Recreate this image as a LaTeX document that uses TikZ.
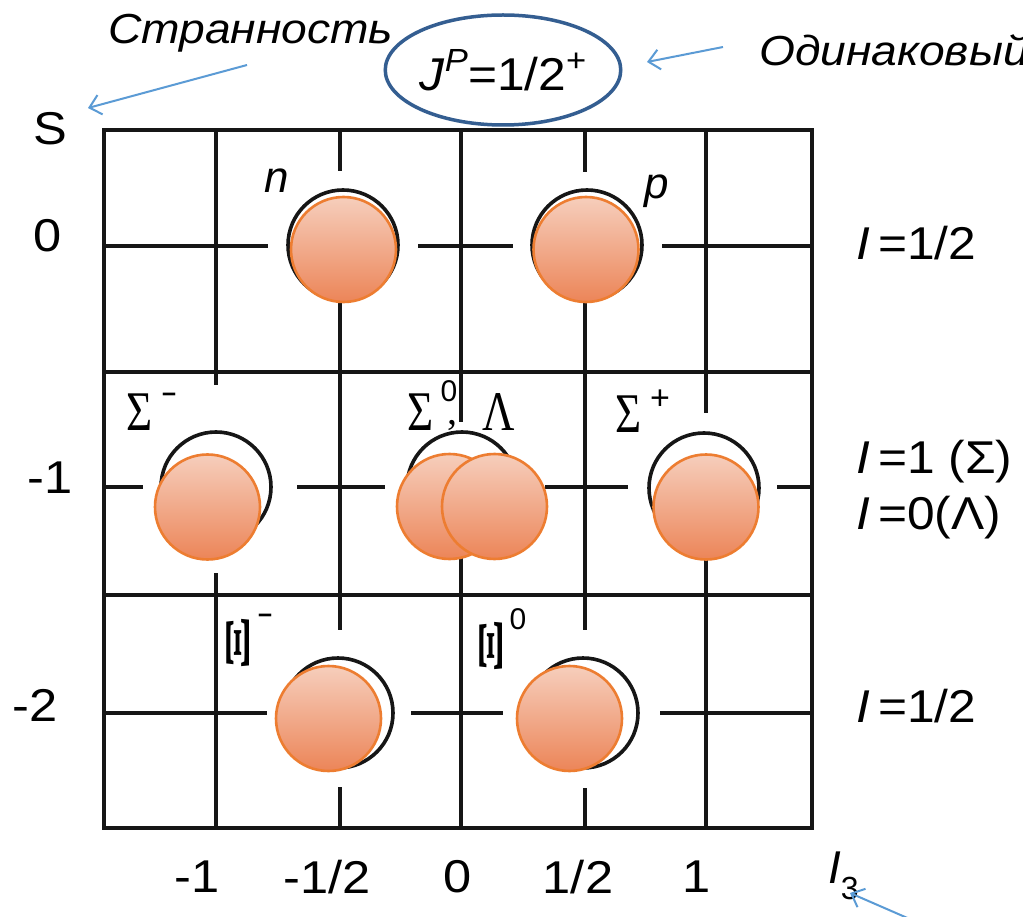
\documentclass[tikz,border=0pt]{standalone}
\usepackage{fontspec}
\usepackage{graphicx}
\setmainfont{Liberation Sans}
\newfontfamily\grk{Liberation Serif}
\usetikzlibrary{arrows.meta,shapes.geometric}
\newcommand\fsz[1]{\fontsize{#1}{#1}\selectfont}
\newcommand\hstretch[2]{\scalebox{#1}[1]{#2}}
\definecolor{ink}{RGB}{22,22,22}
\definecolor{oline}{RGB}{237,125,49}
\definecolor{otop}{RGB}{246,206,188}
\definecolor{obot}{RGB}{236,133,88}
\definecolor{ablue}{RGB}{91,155,213}
\definecolor{eblue}{RGB}{52,94,145}
\begin{document}
\begin{tikzpicture}[x=1pt,y=-1pt,
  gl/.style={draw=ink,line width=3.4pt},
  hole/.style={circle,draw=ink,line width=3.6pt,fill=white,minimum size=110pt,inner sep=0pt},
  ball/.style={circle,draw=oline,line width=2.6pt,top color=otop,bottom color=obot,minimum size=105pt,inner sep=0pt},
  ax/.style={font=\fsz{46},inner sep=0pt},
  sup/.style={font=\fsz{34},inner sep=0pt},
  gr/.style={font=\grk\fsz{56},inner sep=0pt},
  note/.style={font=\itshape\fsz{42},inner sep=0pt},
  arr/.style={draw=ablue,line width=2pt,-{Straight Barb[length=11pt,width=20pt]}}
]
\clip (0,0) rectangle (1023,917);
\fill[white] (0,0) rectangle (1023,917);
% grid
\draw[gl] (104,130) rectangle (812,828);
\draw[gl] (104,372) -- (812,372);
\draw[gl] (104,595) -- (812,595);
\draw[gl] (104,246) -- (268,246) (418,246) -- (513,246) (662,246) -- (812,246);
\draw[gl] (104,487) -- (143,487) (297,487) -- (385,487) (545,487) -- (628,487) (777,487) -- (812,487);
\draw[gl] (104,713) -- (267,713) (411,713) -- (503,713) (660,713) -- (812,713);
\draw[gl] (216,130) -- (216,385) (216,573) -- (216,828);
\draw[gl] (340,130) -- (340,171) (340,303) -- (340,630) (340,787) -- (340,828);
\draw[gl] (461,130) -- (461,422) (461,548) -- (461,828);
\draw[gl] (585,130) -- (585,172) (585,303) -- (585,630) (585,788) -- (585,828);
\draw[gl] (706,130) -- (706,413) (706,548) -- (706,828);
% hollow circles of the scan
\node[hole] (hn) at (343,245) {};
\node[hole] (hp) at (587,245) {};
\node[hole] (hsm) at (216,487) {};
\node[hole] (hs0) at (462,487) {};
\node[hole] (hsp) at (704,488) {};
\node[hole] (hxm) at (338,713) {};
\node[hole] (hx0) at (583,713) {};
% orange balls
\node[ball] (n) at (343.5,249.5) {};
\node[ball] (p) at (586,249.5) {};
\node[ball] (sm) at (207.5,507) {};
\node[ball] (s0) at (449.5,506.5) {};
\node[ball] (lam) at (494.5,506.5) {};
\node[ball] (sp) at (706,507) {};
\node[ball] (xm) at (328.5,718.5) {};
\node[ball] (x0) at (569.5,718.5) {};
% particle labels
\node[ax,font=\itshape\fsz{44}] (ln) at (277,181) {n};
\node[ax,font=\itshape\fsz{44}] (lp) at (657,191) {p};
\node[gr] (lsm) at (140,412) {\hstretch{0.8}{Σ}};
\node[sup] (lsmx) at (169,398) {\hstretch{1.5}{-}};
\node[gr] (ls0) at (421,412) {\hstretch{0.8}{Σ}};
\node[sup,font=\fsz{30}] (ls0x) at (449,391) {0};
\node[gr,font=\grk\fsz{40}] (lcm) at (452,426) {,};
\node[gr] (llam) at (499,412) {\hstretch{0.8}{Λ}};
\node[gr] (lsp) at (629,414) {\hstretch{0.8}{Σ}};
\node[sup] (lspx) at (660,400) {+};
\node[gr,font=\grk\bfseries\fsz{56}] (lxm) at (238,643) {\scalebox{0.62}[1.45]{\rotatebox{90}{Ξ}}};
\node[sup] (lxmx) at (265,619) {\hstretch{1.5}{-}};
\node[gr,font=\grk\bfseries\fsz{56}] (lx0) at (491,646) {\scalebox{0.62}[1.45]{\rotatebox{90}{Ξ}}};
\node[sup,font=\fsz{30}] (lx0x) at (518,619) {0};
% axis labels
\node[ax] (lS) at (50,129) {\hstretch{1.1}{S}};
\node[ax] (l0) at (48,236) {\hstretch{1.1}{0}};
\node[ax] (lm1) at (50,478) {\hstretch{1.1}{-1}};
\node[ax] (lm2) at (35,705) {\hstretch{1.1}{-2}};
\node[ax] (b1) at (197,877) {\hstretch{1.1}{-1}};
\node[ax] (b2) at (327,877) {\hstretch{1.1}{-1/2}};
\node[ax] (b3) at (458,877) {\hstretch{1.1}{0}};
\node[ax] (b4) at (578,877) {\hstretch{1.1}{1/2}};
\node[ax] (b5) at (697,877) {\hstretch{1.1}{1}};
\node[ax,anchor=west] (bI) at (828,876) {\textit{I}\raisebox{-0.35em}{\fsz{32}3}};
\node[ax,anchor=west] (r1) at (856,243) {\hstretch{1.08}{\textit{I}\,=1/2}};
\node[ax,anchor=west] (r2) at (856,462) {\hstretch{1.08}{\textit{I}\,=1 (Σ)}};
\node[ax,anchor=west] (r3) at (856,518) {\hstretch{1.08}{\textit{I}\,=0(Λ)}};
\node[ax,anchor=west] (r4) at (856,706) {\hstretch{1.08}{\textit{I}\,=1/2}};
% top annotations
\node[ellipse,draw=eblue,line width=3.5pt,minimum width=228pt,minimum height=110pt,inner sep=0pt,font=\fsz{46}] (jp) at (503,70) {\hstretch{1.08}{\textit{J}\raisebox{0.42em}{\fsz{32}\textit{P}}=1/2\raisebox{0.42em}{\fsz{32}+}}};
\node[note,anchor=base west] (str) at (108,44) {\hstretch{1.1}{Странность}};
\node[note,anchor=base west] (od) at (759,66) {\hstretch{1.1}{Одинаковый}};
\coordinate (a1s) at (247,65);
\coordinate (a1e) at (88,108);
\coordinate (a2s) at (723,47);
\coordinate (a2e) at (647,62);
\coordinate (a3s) at (935,930);
\coordinate (a3e) at (850,893);
\draw[arr] (a1s) -- (a1e);
\draw[arr] (a2s) -- (a2e);
\draw[arr] (a3s) -- (a3e);
\end{tikzpicture}
\end{document}
